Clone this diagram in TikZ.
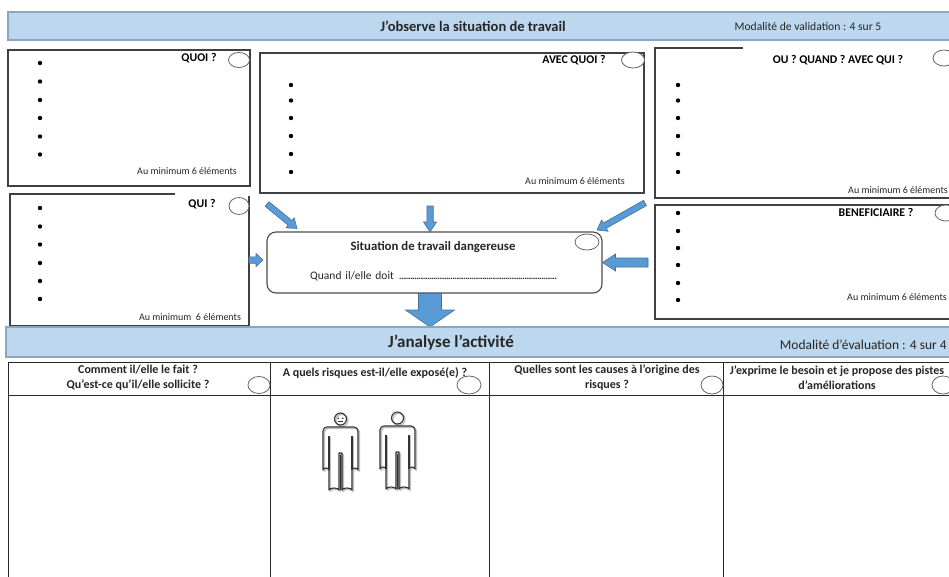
\documentclass[tikz,border=0pt]{standalone}
\usepackage{fontspec}
\setmainfont{Carlito}
\usetikzlibrary{calc}
\definecolor{bannerfill}{HTML}{BDD7EE}
\definecolor{bannerline}{HTML}{8AA6C0}
\definecolor{arrowblue}{HTML}{5B9BD5}
\definecolor{arrowedge}{HTML}{41719C}
\definecolor{boxline}{HTML}{404040}
\definecolor{txt}{HTML}{262626}
\tikzset{
  banner/.style={draw=bannerline, fill=bannerfill, line width=1.2pt},
  boxframe/.style={draw=boxline, line width=1.1pt},
  tablerule/.style={draw=black!85, line width=1pt},
  tickmark/.style={draw=black!60, fill=white, line width=0.8pt},
  bul/.style={fill=black},
  bantitle/.style={font=\bfseries\fontsize{14.5}{16}\selectfont, inner sep=0pt, text=txt},
  modal/.style={font=\fontsize{11.6}{13}\selectfont, inner sep=0pt, text=txt},
  boxtitle/.style={font=\bfseries\fontsize{11.8}{13}\selectfont, inner sep=0pt, text=black},
  minitxt/.style={font=\fontsize{10}{11}\selectfont, inner sep=0pt, text=txt},
  headtxt/.style={font=\bfseries\fontsize{12}{15}\selectfont, inner sep=0pt, text=txt, align=center},
  blockarr/.style={fill=arrowblue, draw=arrowedge, line width=0.6pt, line join=miter},
  person/.style={draw=black!80, line width=1.1pt, line join=round},
  personshadow/.style={draw=black!25, line width=1.5pt, line join=round},
}
\newcommand\blockarrow[5]{%
  \coordinate (ba-h) at ($(#2)!#5!(#1)$);
  \draw[blockarr] ($(#1)!#3!90:(#2)$) -- ($(ba-h)!#3!90:(#2)$) -- ($(ba-h)!#4!90:(#2)$) -- (#2)
     -- ($(ba-h)!#4!-90:(#2)$) -- ($(ba-h)!#3!-90:(#2)$) -- ($(#1)!#3!-90:(#2)$) -- cycle;}
\newcommand\personfig[3]{% #1 x, #2 shoulder y, #3 face
  \begin{scope}[shift={(#1,#2)}]
    \foreach \sty/\dx in {personshadow/1.3, person/0}{
      \begin{scope}[shift={(\dx,\dx)}]
      \draw[\sty] (-17.5,4) -- (-17.5,43) arc[start angle=180,end angle=360,x radius=3,y radius=2] -- (-11.5,43)
        -- (-11.5,63) arc[start angle=180,end angle=360,x radius=5,y radius=2] -- (-1.5,26) -- (1.5,26) -- (1.5,63)
        arc[start angle=180,end angle=360,x radius=5,y radius=2] -- (11.5,43)
        arc[start angle=180,end angle=360,x radius=3,y radius=2] -- (17.5,4)
        arc[start angle=0,end angle=-90,radius=4] -- (-13.5,0) arc[start angle=270,end angle=180,radius=4] -- cycle;
      \draw[\sty] (-11.5,9) -- (-11.5,43) (11.5,9) -- (11.5,43) (0,28) -- (0,63);
      \draw[\sty] (0,-8) circle[radius=6];
      \end{scope}}
    \ifnum#3=1
      \fill[black!80] (-2.3,-8.8) circle[radius=0.9] (2.3,-8.8) circle[radius=0.9];
      \draw[black!80, line width=0.7pt] (-2.5,-5.4) -- (2.5,-5.4);
    \fi
  \end{scope}}
\begin{document}
\begin{tikzpicture}[x=1pt,y=-1pt]
\useasboundingbox (0,0) rectangle (949,576);
\fill[white] (0,0) rectangle (949,576);
\clip (0,0) rectangle (949,576);

% ---------- top banner
\draw[banner] (8,12) rectangle (956,40);
\node[bantitle] (obs) at (473,26) {J’observe la situation de travail};
\node[modal] (valid) at (808,26.5) {Modalité de validation : 4 sur 5};

% ---------- QUOI
\draw[boxframe] (8,50) rectangle (250,186);
\node[boxtitle] (quoi) at (199,58) {QUOI ?};
\foreach \y in {63,81.5,100,118,136.5,154.5} \fill[bul] (40,\y) circle[radius=2.2];
\node[minitxt] (quoimin) at (187,171) {Au minimum 6 éléments};
\draw[tickmark] (239,60) ellipse[x radius=10.5, y radius=7.5];

% ---------- AVEC QUOI
\draw[boxframe] (260,53) rectangle (644,193);
\node[boxtitle] (avec) at (574,60) {AVEC QUOI ?};
\foreach \y in {85,100.5,118,136,154,172} \fill[bul] (291,\y) circle[radius=2.2];
\node[minitxt] (avecmin) at (575,181) {Au minimum 6 éléments};
\draw[tickmark] (633,60) ellipse[x radius=11.5, y radius=8];

% ---------- OU QUAND AVEC QUI
\draw[boxframe] (743,48) -- (655,48) -- (655,198) -- (956,198);
\node[boxtitle] (ou) at (838,60) {OU ? QUAND ? AVEC QUI ?};
\foreach \y in {85,100.5,118,136,154,172} \fill[bul] (678,\y) circle[radius=2.2];
\node[minitxt] (oumin) at (898,190) {Au minimum 6 éléments};
\draw[tickmark] (944,58) ellipse[x radius=11, y radius=8];

% ---------- BENEFICIAIRE
\draw[boxframe] (956,205) -- (655,205) -- (655,319) -- (956,319);
\node[boxtitle] (benef) at (876,212) {BENEFICIAIRE ?};
\foreach \y in {213,231,248,265,283,300} \fill[bul] (678,\y) circle[radius=2.2];
\node[minitxt] (benefmin) at (897,297) {Au minimum 6 éléments};
\draw[tickmark] (946,213) ellipse[x radius=11, y radius=8];

% ---------- QUI
\draw[boxframe] (175,194) -- (10,194) -- (10,326) -- (249,326) -- (249,196);
\node[boxtitle] (qui) at (202,204) {QUI ?};
\foreach \y in {208,226.5,244.5,263,281,299} \fill[bul] (40,\y) circle[radius=2.2];
\node[minitxt] (quimin) at (190,317) {Au minimum~~6 éléments};
\draw[tickmark] (239,206) ellipse[x radius=10, y radius=8.5];

% ---------- central box
\draw[draw=black!70, line width=1.1pt, rounded corners=9pt] (267,232) rectangle (602,293);
\coordinate (cbtop) at (430,232);
\coordinate (cbright) at (602.5,262.5);
\coordinate (cbleft) at (266.5,260);
\coordinate (cbbottom) at (430,293.5);
\node[font=\bfseries\fontsize{12.8}{14}\selectfont, inner sep=0pt, text=txt] (sit) at (433,247) {Situation de travail dangereuse};
\node[font=\fontsize{11.5}{13}\selectfont, inner sep=0pt, text=txt, anchor=west, text width=247pt] (quand) at (310,276)
  {Quand il/elle doit~\leaders\hbox to 1.9pt{\hss.\hss}\hfill\mbox{}};
\draw[tickmark] (587,242) ellipse[x radius=12, y radius=8];

% ---------- arrows
\coordinate (a1s) at (267,204);
\coordinate (a1e) at (297,228.5);
\coordinate (a2s) at (430,206);
\coordinate (a3s) at (645,203);
\coordinate (a3e) at (597,230);
\coordinate (a4s) at (648,262.5);
\coordinate (a5s) at (249,260);
\coordinate (a5e) at (263,260);
\coordinate (a6e) at (430,327);
\blockarrow{a1s}{a1e}{3pt}{6.5pt}{9pt}
\blockarrow{a2s}{cbtop}{3.2pt}{6.5pt}{10pt}
\blockarrow{a3s}{a3e}{3pt}{6.5pt}{9pt}
\blockarrow{a4s}{cbright}{4.5pt}{8.5pt}{13pt}
\blockarrow{a5s}{a5e}{3.2pt}{6.5pt}{7pt}
\blockarrow{cbbottom}{a6e}{11.5pt}{24.5pt}{17pt}

% ---------- bottom banner
\draw[banner] (6,327) rectangle (956,357);
\node[font=\bfseries\fontsize{17}{19}\selectfont, inner sep=0pt, text=txt] (ana) at (451,343) {J’analyse l’activité};
\node[font=\fontsize{13.5}{15}\selectfont, inner sep=0pt, text=txt, anchor=east] (eval) at (947,345) {Modalité d’évaluation : 4 sur 4};

% ---------- table
\draw[tablerule] (8,590) -- (8,362) -- (956,362);
\draw[tablerule] (8,395) -- (956,395);
\draw[tablerule] (270,362) -- (270,590);
\draw[tablerule] (489,362) -- (489,590);
\draw[tablerule] (723,362) -- (723,590);
\node[headtxt] (h1) at (138,377.5) {Comment il/elle le fait ?\\Qu’est-ce qu’il/elle sollicite ?};
\node[headtxt] (h2) at (375,373) {A quels risques est-il/elle exposé(e) ?};
\node[headtxt] (h3) at (607,377.5) {Quelles sont les causes à l’origine des\\risques ?};
\node[headtxt] (h4) at (837,377.5) {J’exprime le besoin et je propose des pistes\\d’améliorations};
\draw[tickmark] (259,385) ellipse[x radius=11, y radius=8.5];
\draw[tickmark] (469,385) ellipse[x radius=12, y radius=9];
\draw[tickmark] (712,385) ellipse[x radius=11, y radius=9];
\draw[tickmark] (943,385) ellipse[x radius=11, y radius=9];

% ---------- persons
\personfig{340.5}{427}{1}
\personfig{397.5}{426}{0}
\end{tikzpicture}
\end{document}
